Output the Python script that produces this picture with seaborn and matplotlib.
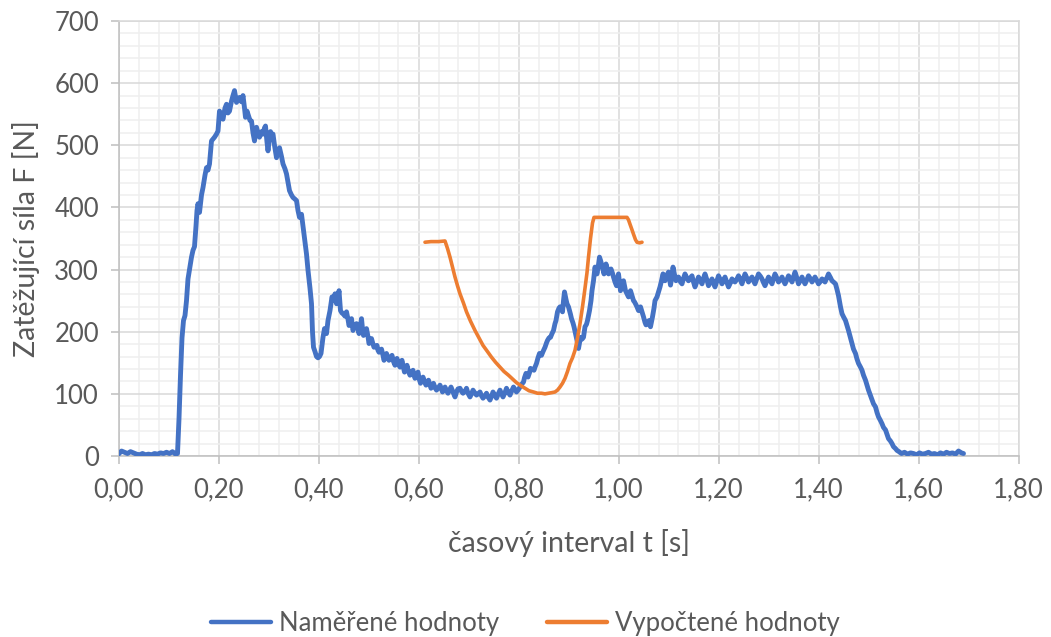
import matplotlib
matplotlib.use("Agg")
import matplotlib.pyplot as plt
from matplotlib.lines import Line2D
from matplotlib.ticker import MultipleLocator, FuncFormatter
import pandas as pd
import seaborn as sns

# Measured force over time (Naměřené hodnoty)
t_measured = [
    0.000, 0.006, 0.012, 0.018, 0.024, 0.030, 0.036, 0.042, 0.048, 0.054,
    0.060, 0.066, 0.072, 0.078, 0.084, 0.090, 0.096, 0.102, 0.108, 0.114,
    0.118, 0.121, 0.124, 0.127, 0.130, 0.133, 0.136, 0.139, 0.142, 0.146,
    0.149, 0.152, 0.155, 0.157, 0.159, 0.162, 0.166, 0.169, 0.173, 0.176,
    0.179, 0.182, 0.186, 0.189, 0.192, 0.196, 0.199, 0.202, 0.206, 0.209,
    0.213, 0.216, 0.219, 0.222, 0.226, 0.229, 0.232, 0.236, 0.239, 0.242,
    0.246, 0.249, 0.252, 0.254, 0.257, 0.259, 0.263, 0.266, 0.269, 0.272,
    0.276, 0.279, 0.282, 0.286, 0.289, 0.292, 0.294, 0.297, 0.299, 0.302,
    0.304, 0.307, 0.309, 0.312, 0.316, 0.319, 0.322, 0.326, 0.329, 0.333,
    0.336, 0.339, 0.342, 0.346, 0.349, 0.352, 0.356, 0.359, 0.362, 0.366,
    0.369, 0.372, 0.376, 0.379, 0.383, 0.386, 0.388, 0.390, 0.393, 0.396,
    0.399, 0.402, 0.405, 0.409, 0.412, 0.416, 0.419, 0.423, 0.427, 0.430,
    0.433, 0.436, 0.439, 0.441, 0.444, 0.447, 0.449, 0.453, 0.456, 0.459,
    0.461, 0.464, 0.466, 0.469, 0.472, 0.476, 0.479, 0.481, 0.484, 0.486,
    0.488, 0.490, 0.493, 0.496, 0.499, 0.501, 0.504, 0.506, 0.509, 0.511,
    0.514, 0.517, 0.519, 0.521, 0.524, 0.526, 0.529, 0.531, 0.534, 0.536,
    0.539, 0.541, 0.544, 0.547, 0.550, 0.553, 0.555, 0.557, 0.560, 0.563,
    0.565, 0.567, 0.570, 0.572, 0.575, 0.577, 0.580, 0.583, 0.586, 0.589,
    0.591, 0.593, 0.596, 0.599, 0.601, 0.604, 0.607, 0.609, 0.612, 0.615,
    0.617, 0.620, 0.623, 0.625, 0.628, 0.630, 0.633, 0.636, 0.640, 0.643,
    0.646, 0.648, 0.651, 0.653, 0.656, 0.659, 0.662, 0.665, 0.669, 0.673,
    0.676, 0.679, 0.683, 0.686, 0.689, 0.693, 0.696, 0.699, 0.703, 0.706,
    0.709, 0.713, 0.716, 0.719, 0.723, 0.726, 0.729, 0.733, 0.736, 0.739,
    0.743, 0.746, 0.749, 0.753, 0.756, 0.759, 0.763, 0.766, 0.769, 0.773,
    0.776, 0.779, 0.783, 0.786, 0.790, 0.793, 0.796, 0.800, 0.803, 0.806,
    0.810, 0.812, 0.815, 0.817, 0.819, 0.822, 0.824, 0.828, 0.831, 0.833,
    0.836, 0.839, 0.842, 0.846, 0.849, 0.853, 0.856, 0.858, 0.861, 0.864,
    0.867, 0.870, 0.873, 0.875, 0.878, 0.881, 0.883, 0.886, 0.888, 0.890,
    0.892, 0.895, 0.897, 0.900, 0.902, 0.904, 0.906, 0.909, 0.911, 0.914,
    0.917, 0.919, 0.920, 0.922, 0.924, 0.927, 0.930, 0.933, 0.936, 0.938,
    0.940, 0.942, 0.945, 0.947, 0.950, 0.953, 0.955, 0.957, 0.960, 0.962,
    0.964, 0.966, 0.969, 0.971, 0.973, 0.975, 0.978, 0.980, 0.983, 0.985,
    0.988, 0.990, 0.993, 0.996, 0.998, 1.000, 1.002, 1.004, 1.007, 1.010,
    1.012, 1.014, 1.017, 1.020, 1.022, 1.024, 1.027, 1.030, 1.032, 1.034,
    1.037, 1.040, 1.042, 1.044, 1.047, 1.050, 1.053, 1.055, 1.058, 1.061,
    1.062, 1.064, 1.066, 1.068, 1.071, 1.073, 1.075, 1.077, 1.080, 1.083,
    1.086, 1.089, 1.091, 1.093, 1.096, 1.100, 1.102, 1.104, 1.107, 1.109,
    1.112, 1.115, 1.117, 1.120, 1.124, 1.127, 1.130, 1.133, 1.137, 1.140,
    1.144, 1.147, 1.150, 1.153, 1.157, 1.160, 1.164, 1.167, 1.170, 1.173,
    1.177, 1.180, 1.184, 1.187, 1.190, 1.193, 1.197, 1.200, 1.204, 1.207,
    1.210, 1.213, 1.217, 1.220, 1.224, 1.227, 1.230, 1.233, 1.237, 1.240,
    1.244, 1.247, 1.250, 1.253, 1.257, 1.260, 1.264, 1.267, 1.270, 1.273,
    1.277, 1.280, 1.284, 1.287, 1.290, 1.293, 1.297, 1.300, 1.304, 1.307,
    1.310, 1.313, 1.317, 1.320, 1.324, 1.327, 1.330, 1.333, 1.337, 1.340,
    1.344, 1.347, 1.350, 1.353, 1.357, 1.360, 1.364, 1.367, 1.370, 1.373,
    1.377, 1.380, 1.384, 1.387, 1.390, 1.393, 1.397, 1.400, 1.404, 1.407,
    1.410, 1.413, 1.417, 1.420, 1.424, 1.427, 1.430, 1.434, 1.437, 1.440,
    1.444, 1.447, 1.450, 1.454, 1.457, 1.460, 1.464, 1.467, 1.470, 1.474,
    1.477, 1.480, 1.484, 1.487, 1.490, 1.494, 1.497, 1.500, 1.504, 1.507,
    1.510, 1.514, 1.517, 1.520, 1.524, 1.527, 1.530, 1.534, 1.537, 1.540,
    1.544, 1.547, 1.550, 1.554, 1.557, 1.561, 1.566, 1.572, 1.578, 1.584,
    1.590, 1.596, 1.602, 1.608, 1.614, 1.620, 1.626, 1.632, 1.638, 1.644,
    1.650, 1.656, 1.662, 1.668, 1.674, 1.680, 1.686, 1.690,
]
force_measured = [
    3, 8, 6, 4, 7, 5, 3, 2, 4, 2,
    3, 2, 4, 3, 5, 4, 6, 4, 7, 3,
    4, 60, 130, 190, 218, 226, 250, 285, 300, 320,
    331, 337, 370, 395, 406, 392, 420, 432, 452, 464,
    460, 470, 507, 510, 513, 518, 523, 555, 548, 542,
    560, 566, 552, 555, 571, 580, 588, 569, 574, 577,
    570, 580, 560, 545, 555, 550, 540, 539, 520, 507,
    529, 520, 513, 522, 518, 528, 531, 505, 491, 512,
    522, 515, 518, 500, 480, 490, 496, 482, 470, 462,
    454, 440, 427, 420, 416, 414, 411, 395, 384, 389,
    370, 352, 325, 299, 270, 245, 200, 175, 168, 160,
    158, 160, 165, 191, 205, 197, 218, 234, 256, 250,
    261, 245, 255, 266, 234, 230, 229, 225, 232, 220,
    210, 215, 221, 202, 208, 213, 205, 197, 210, 221,
    205, 194, 200, 205, 192, 181, 186, 189, 180, 175,
    176, 178, 170, 167, 170, 172, 162, 154, 160, 165,
    158, 154, 158, 162, 152, 146, 152, 157, 148, 143,
    150, 154, 142, 135, 140, 146, 136, 130, 135, 138,
    130, 125, 130, 135, 125, 117, 122, 127, 120, 114,
    118, 122, 114, 109, 113, 117, 110, 106, 110, 114,
    108, 103, 108, 111, 105, 101, 106, 111, 103, 95,
    103, 108, 109, 104, 101, 104, 109, 101, 95, 100,
    106, 101, 98, 100, 103, 97, 93, 97, 101, 95,
    90, 96, 103, 97, 93, 99, 106, 100, 95, 102,
    109, 103, 98, 104, 111, 107, 103, 107, 111, 115,
    119, 126, 133, 130, 127, 134, 141, 139, 138, 143,
    149, 158, 165, 162, 168, 175, 182, 186, 190, 191,
    197, 202, 213, 218, 232, 238, 240, 236, 232, 250,
    264, 252, 245, 240, 234, 228, 221, 214, 208, 197,
    186, 176, 173, 182, 191, 188, 191, 208, 212, 218,
    226, 234, 250, 266, 282, 304, 298, 293, 308, 320,
    315, 309, 300, 293, 300, 309, 300, 293, 297, 301,
    294, 288, 280, 274, 285, 293, 280, 266, 275, 282,
    274, 266, 261, 256, 262, 266, 258, 250, 248, 245,
    240, 234, 238, 240, 232, 224, 215, 211, 214, 218,
    212, 208, 216, 224, 238, 250, 253, 256, 264, 272,
    282, 293, 288, 282, 290, 296, 285, 275, 290, 304,
    292, 282, 285, 288, 280, 277, 286, 293, 286, 282,
    287, 290, 280, 272, 281, 288, 282, 277, 286, 293,
    283, 274, 280, 285, 278, 272, 282, 290, 283, 277,
    283, 288, 279, 272, 279, 285, 282, 280, 285, 290,
    283, 277, 286, 293, 286, 280, 285, 288, 282, 277,
    286, 293, 289, 285, 279, 274, 282, 288, 282, 277,
    286, 293, 286, 280, 284, 288, 282, 277, 284, 290,
    285, 280, 288, 296, 286, 277, 283, 288, 282, 277,
    284, 290, 285, 280, 284, 288, 282, 277, 281, 285,
    283, 280, 287, 293, 287, 282, 280, 277, 268, 258,
    240, 229, 224, 218, 210, 202, 190, 181, 172, 165,
    156, 149, 143, 138, 130, 122, 114, 106, 97, 90,
    84, 79, 70, 63, 57, 52, 46, 42, 35, 28,
    24, 20, 15, 12, 9, 7, 4, 6, 3, 5,
    4, 2, 5, 3, 4, 6, 3, 4, 2, 5,
    3, 6, 4, 5, 3, 8, 5, 4,
]

# Calculated force over time (Vypočtené hodnoty)
t_calculated = [
    0.613, 0.625, 0.640, 0.653, 0.658, 0.663, 0.668, 0.673, 0.678, 0.683,
    0.690, 0.696, 0.704, 0.713, 0.721, 0.729, 0.738, 0.746, 0.754, 0.763,
    0.771, 0.780, 0.788, 0.796, 0.805, 0.813, 0.821, 0.830, 0.838, 0.846,
    0.853, 0.860, 0.867, 0.873, 0.878, 0.883, 0.888, 0.893, 0.898, 0.903,
    0.908, 0.913, 0.918, 0.923, 0.928, 0.933, 0.937, 0.940, 0.944, 0.948,
    0.951, 0.970, 0.985, 1.000, 1.017, 1.020, 1.023, 1.027, 1.030, 1.034,
    1.037, 1.042, 1.047,
]
force_calculated = [
    344, 345, 345, 346, 334, 320, 304, 288, 274, 261,
    246, 232, 217, 202, 190, 178, 168, 159, 151, 143,
    136, 130, 124, 118, 113, 109, 105, 103, 101, 101,
    100, 101, 102, 103, 106, 111, 117, 125, 136, 149,
    158, 170, 190, 213, 240, 270, 295, 320, 350, 375,
    384, 384, 384, 384, 384, 380, 373, 364, 357, 348,
    344, 343, 344,
]

series_labels = ["Naměřené hodnoty", "Vypočtené hodnoty"]
series_colors = ["#4472C4", "#ED7D31"]
x_label = "časový interval t [s]"
y_label = "Zatěžující síla F [N]"

measured = pd.DataFrame({"t": t_measured, "F": force_measured})
calculated = pd.DataFrame({"t": t_calculated, "F": force_calculated})

sns.set_theme(style="white")
plt.rcParams["font.family"] = ["Lato", "DejaVu Sans"]

text_grey = "#595959"
tick_size = 18.5
title_size = 20.5

fig = plt.figure(figsize=(10.51, 6.37), dpi=100)
ax = fig.add_axes([118.5 / 1051, 181 / 637, 900 / 1051, 435 / 637])

sns.lineplot(data=measured, x="t", y="F", ax=ax, sort=False, estimator=None,
             color=series_colors[0], linewidth=3.5, zorder=3)
sns.lineplot(data=calculated, x="t", y="F", ax=ax, sort=False, estimator=None,
             color=series_colors[1], linewidth=2.6, zorder=4)

ax.set_xlim(0, 1.8)
ax.set_ylim(0, 700)
ax.xaxis.set_major_locator(MultipleLocator(0.2))
ax.xaxis.set_minor_locator(MultipleLocator(0.04))
ax.yaxis.set_major_locator(MultipleLocator(100))
ax.yaxis.set_minor_locator(MultipleLocator(20))
ax.xaxis.set_major_formatter(FuncFormatter(lambda v, p: f"{v:.2f}".replace(".", ",")))
ax.yaxis.set_major_formatter(FuncFormatter(lambda v, p: f"{v:.0f}"))

ax.grid(which="minor", color="#efefef", linewidth=1.1, zorder=0)
ax.grid(which="major", color="#d9d9d9", linewidth=1.1, zorder=1)
ax.set_axisbelow(True)

for side in ("top", "right"):
    ax.spines[side].set_color("#d9d9d9")
    ax.spines[side].set_linewidth(1.1)
for side in ("left", "bottom"):
    ax.spines[side].set_color("#bfbfbf")
    ax.spines[side].set_linewidth(1.1)

ax.tick_params(axis="both", which="major", direction="out", length=6, width=1.1,
               color="#bfbfbf", labelcolor=text_grey, labelsize=tick_size)
ax.tick_params(axis="x", which="major", pad=9, bottom=True)
ax.tick_params(axis="y", which="major", pad=8, left=True)
ax.tick_params(which="minor", length=0)

ax.set_xlabel(x_label, fontsize=title_size, color=text_grey, va="center")
ax.set_ylabel(y_label, fontsize=title_size, color=text_grey, va="center")
ax.xaxis.set_label_coords(0.5, -(543 - 456) / 435)
ax.yaxis.set_label_coords(-(118.5 - 26) / 900, 0.5)

handles = [Line2D([], [], color=c, linewidth=3.2) for c in series_colors]
fig.legend(handles, series_labels, loc="center", bbox_to_anchor=(0.5, 14 / 637),
           ncol=2, frameon=False, fontsize=tick_size, handlelength=2.33,
           handletextpad=0.31, columnspacing=1.87, labelcolor=text_grey)

fig.savefig("out.png", dpi=100)
